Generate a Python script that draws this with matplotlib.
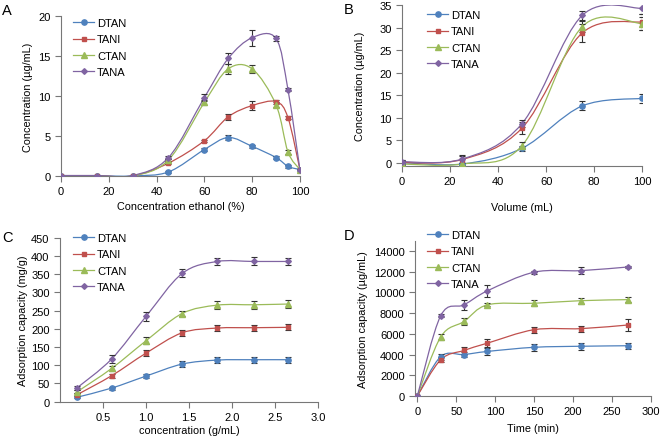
import numpy as np
import matplotlib
matplotlib.use("Agg")
import matplotlib.pyplot as plt
from matplotlib.path import Path
from matplotlib.patches import PathPatch
from matplotlib.lines import Line2D

plt.rcParams['font.family'] = ['Liberation Sans', 'DejaVu Sans']

series = ["DTAN", "TANI", "CTAN", "TANA"]
colors = ["#4F81BD", "#C0504D", "#9BBB59", "#8064A2"]
markers = ["o", "s", "^", "D"]
msizes = [3.8, 3.1, 3.8, 2.9]

# Panel A: ethanol concentration
a_x = [0, 15, 30, 45, 60, 70, 80, 90, 95, 100]
a_y = [
    [0, 0, 0, 0.5, 3.3, 4.8, 3.7, 2.3, 1.2, 0.8],
    [0, 0, 0, 1.6, 4.4, 7.4, 8.8, 9.3, 7.3, 0.8],
    [0, 0, 0, 2.0, 9.2, 13.4, 13.4, 8.9, 3.0, 0.8],
    [0.05, 0.05, 0.05, 2.3, 9.8, 14.7, 17.3, 17.2, 10.8, 0.8],
]
a_err = [
    [0, 0, 0, 0.1, 0.2, 0.3, 0.2, 0.15, 0.15, 0.05],
    [0, 0, 0, 0.1, 0.15, 0.4, 0.6, 0.25, 0.2, 0.05],
    [0, 0, 0, 0.1, 0.3, 0.6, 0.5, 0.3, 0.2, 0.05],
    [0, 0, 0, 0.2, 0.4, 0.7, 1.0, 0.3, 0.2, 0.05],
]

# Panel B: volume
b_x = [0, 25, 50, 75, 100]
b_y = [
    [0, -0.3, 3.2, 12.6, 14.3],
    [0, 0.7, 7.7, 28.8, 31.3],
    [-0.3, -0.3, 3.8, 30.2, 30.9],
    [0.2, 0.8, 8.7, 32.7, 34.3],
]
b_err = [
    [0.3, 0.3, 0.6, 1.0, 1.0],
    [0.5, 0.8, 1.3, 2.0, 1.8],
    [0.3, 0.3, 0.8, 1.2, 1.5],
    [0.5, 0.8, 0.8, 1.0, 1.2],
]

# Panel C: concentration
c_x = [0.2, 0.6, 1.0, 1.42, 1.83, 2.25, 2.65]
c_y = [
    [12, 37, 70, 103, 114, 115, 115],
    [19, 71, 133, 189, 202, 203, 204],
    [27, 91, 167, 242, 265, 266, 268],
    [38, 117, 234, 352, 385, 385, 385],
]
c_err = [
    [3, 4, 5, 8, 8, 8, 8],
    [4, 6, 8, 9, 8, 8, 8],
    [4, 8, 10, 8, 10, 11, 10],
    [5, 10, 12, 11, 10, 11, 9],
]

# Panel D: time
d_x = [0, 30, 60, 90, 150, 210, 270]
d_y = [
    [0, 3800, 4000, 4300, 4700, 4800, 4850],
    [0, 3500, 4400, 5100, 6400, 6500, 6850],
    [0, 5700, 7200, 8800, 8950, 9200, 9300],
    [0, 7750, 8800, 10150, 11950, 12100, 12450],
]
d_err = [
    [0, 300, 250, 300, 350, 350, 300],
    [0, 250, 300, 400, 300, 300, 600],
    [0, 300, 300, 150, 300, 300, 250],
    [0, 150, 500, 600, 150, 350, 80],
]

W, H = 660, 439


def smooth_path(x, y):
    # Excel-like smoothed line as cubic Bezier segments
    p = np.column_stack([x, y]).astype(float)
    n = len(p)
    verts = [p[0]]
    codes = [Path.MOVETO]
    for i in range(n - 1):
        p0 = p[i - 1] if i > 0 else p[i]
        p3 = p[i + 2] if i + 2 < n else p[i + 1]
        c1 = p[i] + (p[i + 1] - p0) / 6.0
        c2 = p[i + 1] - (p3 - p[i]) / 6.0
        verts += [c1, c2, p[i + 1]]
        codes += [Path.CURVE4] * 3
    return Path(verts, codes)


def draw_panel(ax, x, ys, errs, xlabel, ylabel, xlim, ylim, xticks, yticks,
               letter, letter_px, legend_px, xpad, ypad):
    for k in range(4):
        ax.add_patch(PathPatch(smooth_path(x, ys[k]), fill=False,
                               edgecolor=colors[k], lw=0.9, zorder=2))
        ax.errorbar(x, ys[k], yerr=errs[k], fmt=markers[k], color=colors[k],
                    ms=msizes[k], ecolor="#333333", elinewidth=0.8,
                    capsize=2, capthick=0.8, zorder=3)
    ax.set_xlim(*xlim)
    ax.set_ylim(*ylim)
    ax.set_xticks(xticks)
    ax.set_yticks(yticks)
    for s in ["top", "right"]:
        ax.spines[s].set_visible(False)
    for s in ["left", "bottom"]:
        ax.spines[s].set_color("#777777")
        ax.spines[s].set_linewidth(0.8)
    ax.tick_params(direction="out", length=4.5, width=0.8, color="#777777",
                   labelsize=8, pad=3)
    ax.set_xlabel(xlabel, fontsize=7.8, labelpad=xpad)
    ax.set_ylabel(ylabel, fontsize=7.8, labelpad=ypad)
    handles = [Line2D([], [], color=colors[k], marker=markers[k], ms=msizes[k],
                      lw=0.9) for k in range(4)]
    ax.legend(handles, series, loc="upper left",
              bbox_to_anchor=(legend_px[0] / W, 1 - legend_px[1] / H),
              bbox_transform=fig.transFigure, frameon=False, fontsize=8,
              handlelength=1.9, handletextpad=0.25, labelspacing=0.58,
              borderaxespad=0, borderpad=0)
    fig.text(letter_px[0] / W, 1 - letter_px[1] / H, letter, fontsize=10.5,
             va="top", ha="left")


fig = plt.figure(figsize=(6.6, 4.39), dpi=100)

ax_a = fig.add_axes([0.0924, 0.597, 0.362, 0.364])
draw_panel(ax_a, a_x, a_y, a_err, "Concentration ethanol (%)",
           "Concentration (\u00b5g/mL)", (0, 100), (0, 20),
           range(0, 101, 20), range(0, 21, 5), "A", (2, 4), (73, 19), 3, 4)

ax_b = fig.add_axes([0.609, 0.620, 0.364, 0.366])
draw_panel(ax_b, b_x, b_y, b_err, "Volume (mL)",
           "Concentration (\u00b5g/mL)", (0, 100), (-0.7, 35),
           range(0, 101, 20), range(0, 36, 5), "B", (344, 3), (427, 11), 11, 10)

ax_c = fig.add_axes([0.0909, 0.083, 0.391, 0.373])
draw_panel(ax_c, c_x, c_y, c_err, "concentration (g/mL)",
           "Adsorption capacity (mg/g)", (0, 3.0), (0, 450),
           [0.5, 1.0, 1.5, 2.0, 2.5, 3.0], range(0, 451, 50), "C",
           (2, 231), (73, 234), 2, 2)
ax_c.set_xticklabels(["0.5", "1.0", "1.5", "2.0", "2.5", "3.0"])

ax_d = fig.add_axes([0.6288, 0.0957, 0.3576, 0.354])
draw_panel(ax_d, d_x, d_y, d_err, "Time (min)",
           "Adsorption capacity (\u00b5g/mL)", (-3, 300), (0, 15000),
           range(0, 301, 50), range(0, 14001, 2000), "D",
           (344, 229), (427, 231), 5, 4)

fig.savefig("out.png", dpi=100)
